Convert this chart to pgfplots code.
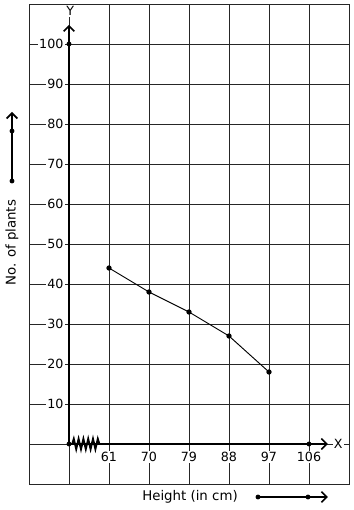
\documentclass[border=0pt]{standalone}
\usepackage{fontspec}
\setmainfont{DejaVu Sans}
\usepackage{pgfplots}
\pgfplotsset{compat=1.18}
\usetikzlibrary{arrows.meta}
\begin{document}
\begin{tikzpicture}
\begin{axis}[
  scale only axis, width=240pt, height=360pt,
  xmin=-1, xmax=7, ymin=-10, ymax=110,
  xtick={-1,0,...,7}, ytick={-10,0,...,110},
  xticklabels={{},{},{},{},{},{},{},{},{}},
  yticklabels={{},{},{},{},{},{},{},{},{},{},{},{},{}},
  major tick length=0pt,
  grid=major,
  grid style={black!85, line width=0.7pt},
  axis line style={black!85, line width=0.7pt},
  clip=false,
  font=\fontsize{9.5}{11}\selectfont,
]
% axes
\addplot[black, line width=1.6pt, -{Straight Barb[length=4pt,width=8pt,line width=1.2pt]}] coordinates {(0,0) (0,104.8)};
\addplot[black, line width=1.6pt, -{Straight Barb[length=4pt,width=8pt,line width=1.2pt]}] coordinates {(0,0) (6.47,0)};
\addplot[only marks, mark=*, mark size=1.6pt, black] coordinates {(0,100) (0,0) (6,0)};
% zigzag break
\addplot[black, line width=1.4pt] coordinates {(0.08,0) (0.12,1.3) (0.18,-1.3) (0.24,1.3) (0.30,-1.3) (0.36,1.3) (0.42,-1.3) (0.48,1.3) (0.54,-1.3) (0.60,1.3) (0.66,-1.3) (0.72,1.3) (0.76,0)};
% data
\addplot[black, line width=0.7pt, mark=*, mark size=1.6pt] coordinates {(1,44) (2,38) (3,33) (4,27) (5,18)};
% tick labels
\pgfplotsinvokeforeach{10,20,...,100}{
  \node[anchor=east, fill=white, inner sep=1pt] at (axis cs:-0.1,#1) {#1};
}
\node[fill=white, inner sep=1pt, anchor=north] at (axis cs:1,-1.6) {61};
\node[fill=white, inner sep=1pt, anchor=north] at (axis cs:2,-1.6) {70};
\node[fill=white, inner sep=1pt, anchor=north] at (axis cs:3,-1.6) {79};
\node[fill=white, inner sep=1pt, anchor=north] at (axis cs:4,-1.6) {88};
\node[fill=white, inner sep=1pt, anchor=north] at (axis cs:5,-1.6) {97};
\node[fill=white, inner sep=1pt, anchor=north] at (axis cs:6,-1.6) {106};
\node[fill=white, inner sep=1pt] at (axis cs:6.73,0) {X};
\node[fill=white, inner sep=1pt] at (axis cs:0.03,108.2) {Y};
% axis titles with decorative arrows
\node[rotate=90, font=\fontsize{10}{12}\selectfont] at (axis cs:-1.425,50.3) {No. of plants};
\addplot[black, line width=1.6pt, -{Straight Barb[length=4pt,width=8pt,line width=1.2pt]}] coordinates {(-1.425,65.75) (-1.425,83)};
\addplot[only marks, mark=*, mark size=1.6pt, black] coordinates {(-1.425,65.75) (-1.425,78.25)};
\node[font=\fontsize{10}{12}\selectfont] at (axis cs:3.025,-13.25) {Height (in cm)};
\addplot[black, line width=1.6pt, -{Straight Barb[length=4pt,width=8pt,line width=1.2pt]}] coordinates {(4.725,-13.25) (6.475,-13.25)};
\addplot[only marks, mark=*, mark size=1.6pt, black] coordinates {(4.725,-13.25) (5.975,-13.25)};
\end{axis}
\pgfresetboundingbox
\path ([shift={(-21.75pt,-19.5pt)}]current axis.south west) rectangle ([shift={(3.75pt,3pt)}]current axis.north east);
\end{tikzpicture}
\end{document}
